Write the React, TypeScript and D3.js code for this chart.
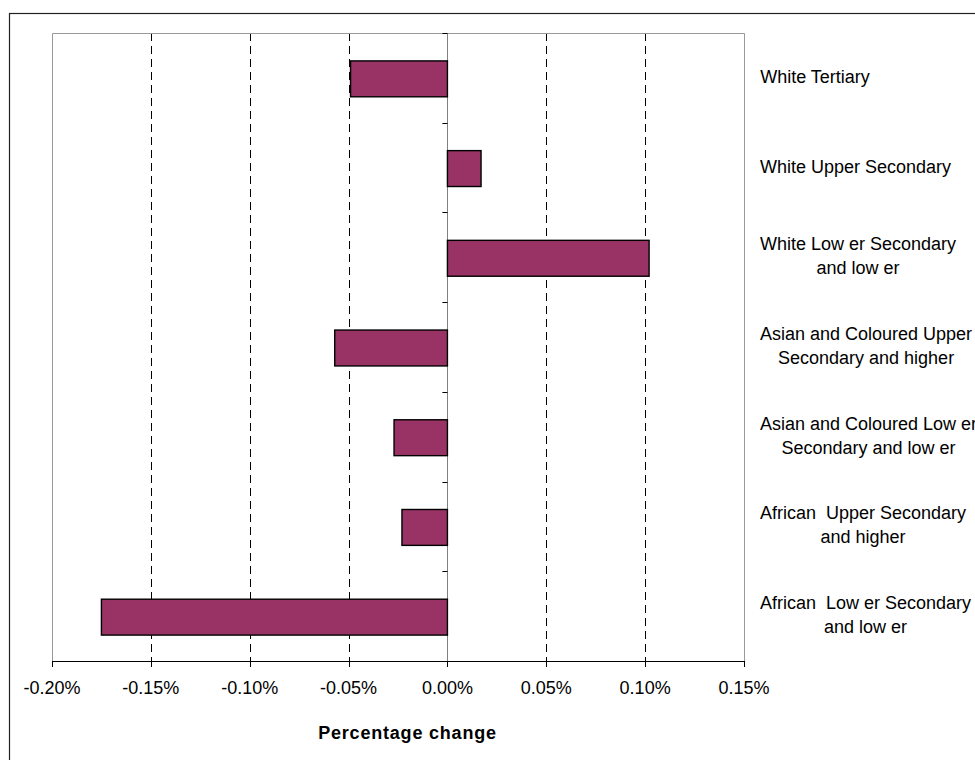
import React from "react";
import * as d3 from "d3";

// Categories, top to bottom, each split into its display lines
const categories: string[][] = [
  ["White Tertiary"],
  ["White Upper Secondary"],
  ["White Low er Secondary", "and low er"],
  ["Asian and Coloured Upper", "Secondary and higher"],
  ["Asian and Coloured Low er", "Secondary and low er"],
  ["African  Upper Secondary", "and higher"],
  ["African  Low er Secondary", "and low er"],
];

// Percentage change per category (in percent)
const values: number[] = [-0.049, 0.017, 0.102, -0.057, -0.027, -0.023, -0.175];

const xTicks: number[] = [-0.2, -0.15, -0.1, -0.05, 0, 0.05, 0.1, 0.15];

const axisTitle = "Percentage change";

const W = 975;
const H = 760;
const plot = { left: 52, right: 744, top: 33, bottom: 661 };
const FONT = "'Liberation Sans', Arial, Helvetica, sans-serif";
const FS = 18;
const BAR_FILL = "#993366";

const fmtTick = (t: number) => d3.format(".2f")(t).replace("\u2212", "-") + "%";

let ctx: CanvasRenderingContext2D | null = null;
function textWidth(s: string, font: string): number {
  if (!ctx) ctx = document.createElement("canvas").getContext("2d");
  if (!ctx) return s.length * FS * 0.5;
  ctx.font = font;
  return ctx.measureText(s).width;
}

export default function App() {
  const keys = categories.map((c) => c.join(" "));
  const x = d3.scaleLinear().domain([-0.2, 0.15]).range([plot.left, plot.right]);
  const y = d3.scaleBand<string>().domain(keys).range([plot.top, plot.bottom]).padding(0);
  const bw = y.bandwidth();
  const barH = bw * 0.4;
  const x0 = x(0);

  const labelLeft = 760;
  const lineH = 24;

  return (
    <svg
      width={W}
      height={H}
      style={{ position: "absolute", left: 0, top: 0, background: "#fff" }}
      fontFamily={FONT}
    >
      {/* chart frame (extends past the visible page) */}
      <rect x={9.5} y={13.5} width={1100} height={900} fill="#fff" stroke="#222" strokeWidth={1.2} />

      {/* dashed vertical gridlines */}
      {xTicks
        .filter((t) => t !== 0 && t !== -0.2 && t !== 0.15)
        .map((t) => (
          <line
            key={"g" + t}
            x1={Math.round(x(t)) + 0.5}
            x2={Math.round(x(t)) + 0.5}
            y1={plot.top}
            y2={plot.bottom}
            stroke="#000"
            strokeWidth={1}
            strokeDasharray="8,5"
          />
        ))}

      {/* plot area border */}
      <path
        d={`M${plot.left + 0.5},${plot.bottom}V${plot.top + 0.5}H${plot.right + 0.5}V${plot.bottom}`}
        fill="none"
        stroke="#999"
        strokeWidth={1}
      />

      {/* category axis at zero */}
      <line x1={Math.round(x0) + 0.5} x2={Math.round(x0) + 0.5} y1={plot.top} y2={plot.bottom} stroke="#808080" strokeWidth={1} />
      {d3.range(categories.length + 1).map((i) => {
        const yy = Math.round(plot.top + i * bw) + 0.5;
        return <line key={"ct" + i} x1={x0 - 5} x2={x0} y1={yy} y2={yy} stroke="#000" strokeWidth={1} />;
      })}

      {/* bars */}
      {values.map((v, i) => {
        const k = keys[i];
        const y0 = (y(k) as number) + (bw - barH) / 2 + 1;
        return (
          <rect
            key={"b" + i}
            x={Math.min(x(v), x0)}
            y={y0}
            width={Math.abs(x(v) - x0)}
            height={barH}
            fill={BAR_FILL}
            stroke="#000"
            strokeWidth={1.4}
          />
        );
      })}

      {/* value axis */}
      <line x1={plot.left} x2={plot.right + 1} y1={plot.bottom + 0.5} y2={plot.bottom + 0.5} stroke="#000" strokeWidth={1} />
      {xTicks.map((t) => {
        const xx = Math.round(x(t)) + 0.5;
        return (
          <g key={"t" + t}>
            <line x1={xx} x2={xx} y1={plot.bottom} y2={plot.bottom + 6} stroke="#000" strokeWidth={1} />
            <text x={x(t)} y={694} fontSize={FS} textAnchor="middle" fill="#000">
              {fmtTick(t)}
            </text>
          </g>
        );
      })}

      <text
        x={407.5}
        y={739}
        fontSize={FS}
        fontWeight="bold"
        textAnchor="middle"
        letterSpacing={0.8}
        fill="#000"
      >
        {axisTitle}
      </text>

      {/* category labels on the right */}
      {categories.map((lines, i) => {
        const k = keys[i];
        const cy = (y(k) as number) + bw / 2;
        const font = `${FS}px ${FONT}`;
        const maxW = Math.max(...lines.map((l) => textWidth(l, font)));
        const cx = labelLeft + maxW / 2;
        const n = lines.length;
        return (
          <g key={"l" + i}>
            {lines.map((l, j) => (
              <text
                key={j}
                x={cx}
                y={cy + 5 + (j - (n - 1) / 2) * lineH}
                fontSize={FS}
                textAnchor="middle"
                fill="#000"
                style={{ whiteSpace: "pre" }}
              >
                {l}
              </text>
            ))}
          </g>
        );
      })}
    </svg>
  );
}
